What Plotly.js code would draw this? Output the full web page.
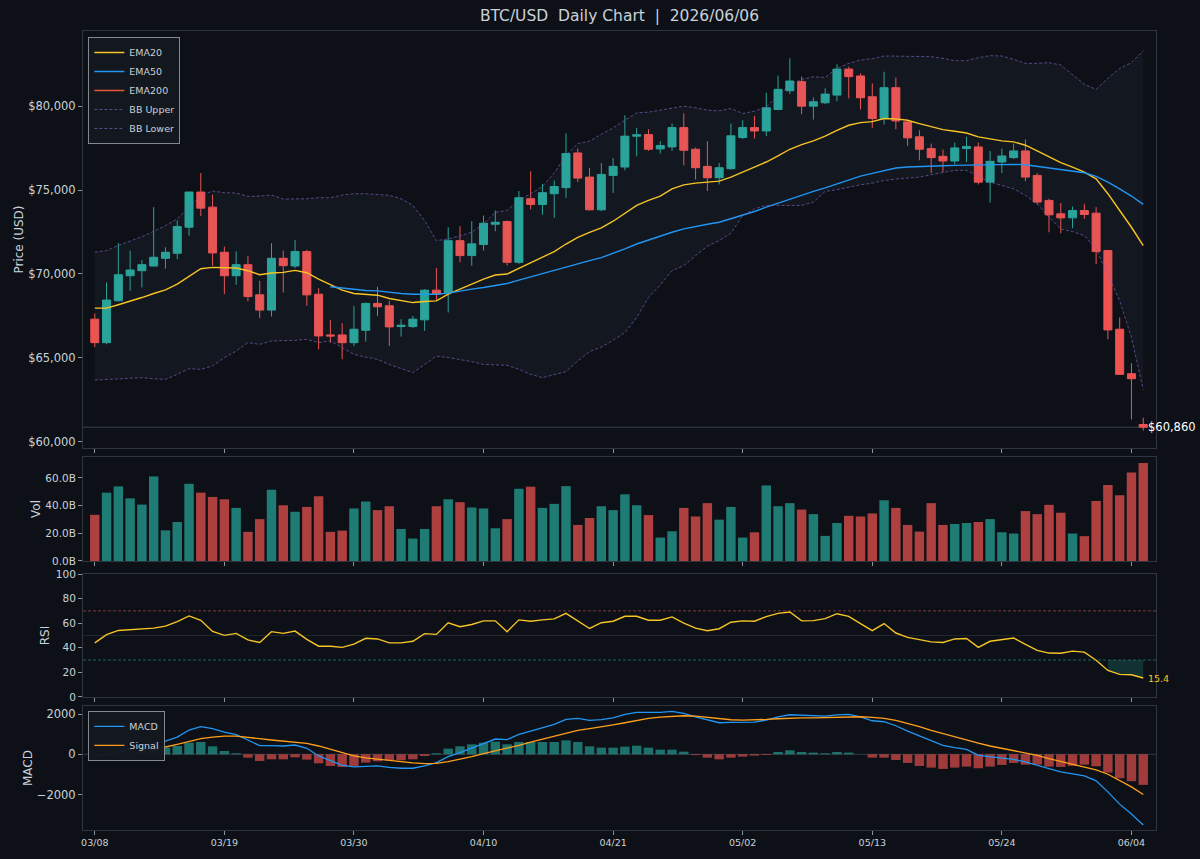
<!DOCTYPE html>
<html>
<head>
<meta charset="utf-8">
<script src="https://cdn.plot.ly/plotly-3.0.1.min.js"></script>
<style>html,body{margin:0;padding:0;background:#0d1117;}#chart{width:1200px;height:859px;}</style>
</head>
<body>
<div id="chart"></div>
<script>
const dates = [
'2026-03-08','2026-03-09','2026-03-10','2026-03-11','2026-03-12','2026-03-13','2026-03-14','2026-03-15','2026-03-16','2026-03-17',
'2026-03-18','2026-03-19','2026-03-20','2026-03-21','2026-03-22','2026-03-23','2026-03-24','2026-03-25','2026-03-26','2026-03-27',
'2026-03-28','2026-03-29','2026-03-30','2026-03-31','2026-04-01','2026-04-02','2026-04-03','2026-04-04','2026-04-05','2026-04-06',
'2026-04-07','2026-04-08','2026-04-09','2026-04-10','2026-04-11','2026-04-12','2026-04-13','2026-04-14','2026-04-15','2026-04-16',
'2026-04-17','2026-04-18','2026-04-19','2026-04-20','2026-04-21','2026-04-22','2026-04-23','2026-04-24','2026-04-25','2026-04-26',
'2026-04-27','2026-04-28','2026-04-29','2026-04-30','2026-05-01','2026-05-02','2026-05-03','2026-05-04','2026-05-05','2026-05-06',
'2026-05-07','2026-05-08','2026-05-09','2026-05-10','2026-05-11','2026-05-12','2026-05-13','2026-05-14','2026-05-15','2026-05-16',
'2026-05-17','2026-05-18','2026-05-19','2026-05-20','2026-05-21','2026-05-22','2026-05-23','2026-05-24','2026-05-25','2026-05-26',
'2026-05-27','2026-05-28','2026-05-29','2026-05-30','2026-05-31','2026-06-01','2026-06-02','2026-06-03','2026-06-04','2026-06-05'];

const tickDates = ['2026-03-08','2026-03-19','2026-03-30','2026-04-10','2026-04-21','2026-05-02','2026-05-13','2026-05-24','2026-06-04'];
const tickLabels = ['03/08','03/19','03/30','04/10','04/21','05/02','05/13','05/24','06/04'];
const priceTicks = [60000,65000,70000,75000,80000];
const priceTickLabels = ['$60,000','$65,000','$70,000','$75,000','$80,000'];
const volTicks = [0,20,40,60];
const volTickLabels = ['0.0B','20.0B','40.0B','60.0B'];
const rsiTicks = [0,20,40,60,80,100];
const macdTicks = [-2000,0,2000];

const open = [67300,65900,68400,69890,70190,70470,70930,71230,72780,74880,
73980,71290,69890,70550,68750,67840,70930,70470,71330,68790,
66360,66360,65900,66640,68240,68100,66860,66860,67260,69030,
68890,71980,71090,71750,72960,73120,70690,74480,74140,74780,
75140,77210,75770,73820,75870,76370,78210,78310,77450,77570,
78720,77430,76410,75730,76270,78130,78720,78520,79800,80920,
81460,80000,80200,80660,82210,81800,80560,79260,81100,79060,
78170,77470,77010,76730,77470,77570,75470,76670,76930,77330,
75870,74380,73580,73340,73780,73620,71390,66700,64050,61020];
const high = [67640,69490,71830,71390,70830,73980,71590,73180,74900,76010,
74720,71630,71350,71070,69590,71830,71390,72020,71430,69150,
67260,67060,68100,68300,69230,68400,67300,67500,69090,70350,
72780,72840,73140,73480,73780,73180,74940,76110,75370,75570,
78370,77470,76310,76610,76910,79460,78700,78620,77910,78960,
79560,77530,77910,76610,78960,79160,79420,80800,81820,82850,
81760,80520,81060,82490,82350,81950,81360,82050,81700,79120,
78560,77770,77410,77830,78170,77830,77330,77470,77770,78010,
76010,74480,74220,74020,74180,73980,71430,67400,64670,61420];
const low = [65640,65800,68360,68990,69190,70430,70310,70870,72280,73440,
70490,68790,69350,68360,67360,67460,68890,70350,68100,65500,
65900,64910,65700,65960,67500,65700,66260,66760,66600,68400,
67700,70690,70490,71390,72540,70490,70590,73840,73520,73340,
74540,75470,73780,73740,74820,76170,77010,77330,77170,77330,
76470,75630,74940,75330,76210,78030,78070,78210,79760,80720,
79520,79200,80120,80300,80460,79800,78700,78900,78620,77630,
76770,76010,76070,76530,76670,75330,74240,76010,76850,75530,
74140,72480,72420,72720,73280,70590,66100,63970,61320,60660];
const close = [65900,68440,69950,70230,70550,70990,71290,72820,74880,73920,
71250,69890,70550,68650,67840,70930,70490,71330,68750,66300,
66300,65900,66700,68240,68040,66840,66940,67300,69030,68790,
71980,71090,71790,73020,73080,70690,74540,74140,74840,75210,
77170,75710,73820,75930,76410,78210,78290,77430,77650,78720,
77370,76330,75730,76330,78230,78720,78520,79900,81000,81500,
80000,80260,80720,82210,81760,80500,79260,81100,79120,78110,
77430,76930,76730,77510,77590,75470,76710,77030,77330,75770,
74280,73520,73340,73780,73540,71330,66660,64010,63750,60860];

const ema20 = [67960,67960,68160,68360,68590,68830,69050,69390,69830,70310,
70390,70370,70350,70190,69950,70050,70090,70210,70070,69690,
69350,69030,68830,68790,68730,68530,68390,68290,68350,68390,
68790,69090,69390,69690,69930,69990,70330,70650,70990,71330,
71780,72180,72480,72740,73140,73620,74080,74380,74640,75070,
75310,75410,75470,75530,75770,76070,76330,76670,77030,77430,
77710,77930,78210,78560,78860,79020,79080,79260,79240,79160,
78960,78760,78600,78500,78400,78170,78030,77930,77870,77670,
77330,76970,76630,76370,76070,75670,74780,73780,72780,71690];
const ema50 = [null,null,null,null,null,null,null,null,null,null,
null,null,null,null,null,null,null,null,null,null,
69230,69150,69070,69010,68990,68890,68830,68790,68790,68790,
68850,68990,69090,69190,69330,69430,69630,69830,70030,70190,
70430,70630,70790,70970,71210,71490,71780,72020,72240,72480,
72680,72840,72960,73080,73280,73520,73720,73980,74220,74480,
74680,74920,75130,75370,75630,75830,75990,76170,76310,76370,
76410,76430,76450,76470,76490,76510,76510,76530,76530,76510,
76410,76290,76210,76130,76030,75810,75470,75070,74640,74140];
// EMA200 has no values inside the shown window (not drawn in the reference)
const ema200 = [null,null,null,null,null,null,null,null,null,null,
null,null,null,null,null,null,null,null,null,null,
null,null,null,null,null,null,null,null,null,null,
null,null,null,null,null,null,null,null,null,null,
null,null,null,null,null,null,null,null,null,null,
null,null,null,null,null,null,null,null,null,null,
null,null,null,null,null,null,null,null,null,null,
null,null,null,null,null,null,null,null,null,null,
null,null,null,null,null,null,null,null,null,null];
const bbUpper = [71290,71390,71690,71940,72220,72540,72880,73280,73980,74680,
74940,74840,74820,74620,74640,74700,74460,74460,74480,74540,
74540,74700,74780,74780,74740,74680,74480,74080,73180,71980,
72080,72280,72480,72980,73680,73780,74380,74780,75210,76010,
77070,77770,77910,78330,78700,79160,79600,79640,79760,79860,
80000,79900,79760,79720,79860,79560,79700,79960,80660,81260,
81600,81750,81710,82250,82550,82750,82830,82990,82990,82990,
82950,82950,82850,82710,82710,82890,83010,82990,82790,82550,
82550,82590,82450,81850,81300,81000,81660,82250,82590,83310];
const bbLower = [63670,63710,63750,63810,63810,63750,63710,64010,64350,64310,
64510,65010,65400,65900,65800,66000,66000,66040,66100,65900,
66000,65600,65200,65040,64900,64600,64350,64110,64600,65100,
65010,64900,64770,64600,64570,64550,64310,64010,63810,64010,
64170,64810,65360,65640,66040,66500,67400,68600,69330,70190,
70490,71090,71650,71980,72420,73480,73880,74080,74080,74080,
74080,74280,74920,75020,75170,75310,75410,75570,75650,75710,
75770,75910,76030,76170,76170,75830,75470,75270,75070,74680,
74180,73380,72680,72520,72280,71490,69890,68400,66200,63110];

const volumeB = [33.3,49.3,53.8,45.2,40.7,61.0,22.1,28.1,55.7,49.3,
46.2,44.5,38.3,21.0,30.2,51.4,40.2,35.5,39.0,46.7,
21.0,21.9,37.9,42.9,36.7,39.5,23.1,16.2,23.1,39.5,
44.5,42.4,38.6,37.9,23.6,30.2,52.1,53.6,38.3,41.2,
54.0,26.0,31.0,39.5,36.7,48.1,40.2,33.1,16.9,21.4,
38.3,32.1,41.7,29.8,39.0,16.9,20.7,54.5,39.5,41.7,
37.1,33.8,18.1,27.4,32.6,32.1,34.3,43.8,38.3,26.0,
21.2,41.7,26.0,26.7,27.4,28.1,30.2,20.7,19.8,36.0,
33.8,40.5,34.8,19.8,17.9,43.3,54.8,47.4,63.8,70.7];

const rsi = [44.0,50.7,54.1,54.7,55.2,56.0,57.6,61.3,65.9,62.4,
53.3,50.1,51.7,46.4,44.3,53.1,51.7,53.6,46.9,41.3,
41.3,40.3,42.9,47.7,47.2,44.0,44.0,45.3,51.5,50.9,
60.3,57.1,58.9,61.9,61.9,53.1,62.7,61.6,62.7,63.5,
68.0,61.9,55.7,60.4,61.6,65.6,65.6,62.4,62.4,65.1,
60.0,56.0,53.9,55.5,60.8,61.9,61.6,65.3,68.0,69.1,
61.9,62.1,63.7,67.7,65.6,59.7,53.9,59.7,52.0,48.5,
46.4,44.8,44.3,47.2,47.5,40.3,45.3,46.7,48.0,42.7,
37.9,35.7,35.5,37.3,36.5,29.9,21.6,18.4,18.1,15.4];

const macd = [-66,-33,116,248,380,545,660,858,1205,1370,
1271,1106,974,710,429,429,413,462,297,-83,
-330,-545,-627,-594,-578,-644,-693,-693,-578,-413,
-116,83,297,528,759,726,990,1155,1337,1485,
1733,1782,1683,1725,1805,1980,2079,2079,2079,2129,
2030,1865,1700,1568,1584,1601,1601,1700,1865,1964,
1931,1898,1898,1964,1980,1865,1667,1617,1419,1155,
908,660,446,330,248,-50,-116,-149,-248,-380,
-528,-710,-875,-990,-1073,-1320,-1865,-2475,-2970,-3515];
const signal = [null,null,null,null,182,264,363,495,644,776,
858,908,908,858,776,710,660,627,545,413,
248,83,-83,-182,-248,-314,-380,-429,-462,-446,
-363,-248,-116,33,165,297,446,611,759,908,
1056,1188,1271,1353,1460,1568,1683,1782,1848,1898,
1914,1898,1832,1749,1716,1700,1700,1733,1766,1799,
1815,1815,1832,1848,1865,1865,1832,1782,1683,1535,
1370,1188,1023,875,726,561,413,297,198,83,
-50,-215,-363,-495,-627,-776,-990,-1287,-1617,-1997];
const hist = [null,null,null,null,215,248,330,413,578,611,
396,165,50,-165,-330,-248,-248,-149,-264,-446,
-578,-627,-578,-413,-347,-297,-297,-248,-83,50,
281,396,495,578,627,495,611,611,611,611,
693,611,396,330,330,380,429,330,231,231,
132,-40,-165,-248,-165,-116,-66,-33,116,198,
116,83,50,116,83,0,-165,-165,-281,-429,
-578,-660,-726,-660,-611,-693,-611,-528,-429,-512,
-512,-611,-627,-578,-512,-594,-908,-1188,-1337,-1518];

const UP = '#26a69a', DOWN = '#ef5350';
const volColors = close.map((c, i) => c >= open[i] ? 'rgba(38,166,154,0.72)' : 'rgba(239,83,80,0.72)');
const histColors = hist.map(v => (v !== null && v >= 0) ? 'rgba(38,166,154,0.65)' : 'rgba(239,83,80,0.65)');

const n = dates.length;
const lastDate = dates[n - 1];
const lastClose = close[n - 1];
const lastRsi = rsi[n - 1];
let osStart = n - 1;
while (osStart > 0 && rsi[osStart - 1] < 29.5) osStart--;
const osDates = dates.slice(osStart);
const osRsi = rsi.slice(osStart);
const os30 = osDates.map(() => 30);

const traces = [
  {type:'scatter', x:dates, y:bbUpper, xaxis:'x', yaxis:'y', mode:'lines', line:{width:0, color:'rgba(0,0,0,0)'}, showlegend:false, hoverinfo:'skip'},
  {type:'scatter', x:dates, y:bbLower, xaxis:'x', yaxis:'y', mode:'lines', line:{width:0, color:'rgba(0,0,0,0)'}, fill:'tonexty', fillcolor:'rgba(120,120,190,0.055)', showlegend:false, hoverinfo:'skip'},
  {type:'candlestick', x:dates, open:open, high:high, low:low, close:close, xaxis:'x', yaxis:'y', showlegend:false,
   increasing:{line:{color:UP, width:1}, fillcolor:UP}, decreasing:{line:{color:DOWN, width:1}, fillcolor:DOWN}, whiskerwidth:0},
  {type:'scatter', x:dates, y:ema20, name:'EMA20', xaxis:'x', yaxis:'y', mode:'lines', line:{color:'#f7c325', width:1.4}},
  {type:'scatter', x:dates, y:ema50, name:'EMA50', xaxis:'x', yaxis:'y', mode:'lines', line:{color:'#2196f3', width:1.4}},
  {type:'scatter', x:dates, y:ema200, name:'EMA200', xaxis:'x', yaxis:'y', mode:'lines', line:{color:'#e4573a', width:1.4}},
  {type:'scatter', x:dates, y:bbUpper, name:'BB Upper', xaxis:'x', yaxis:'y', mode:'lines', line:{color:'rgba(126,97,190,0.75)', width:0.9, dash:'3px,2px'}},
  {type:'scatter', x:dates, y:bbLower, name:'BB Lower', xaxis:'x', yaxis:'y', mode:'lines', line:{color:'rgba(126,97,190,0.75)', width:0.9, dash:'3px,2px'}},
  {type:'bar', x:dates, y:volumeB, xaxis:'x2', yaxis:'y2', marker:{color:volColors, line:{width:0}}, showlegend:false},
  {type:'scatter', x:osDates, y:os30, xaxis:'x3', yaxis:'y3', mode:'lines', line:{width:0, color:'rgba(0,0,0,0)'}, showlegend:false, hoverinfo:'skip'},
  {type:'scatter', x:osDates, y:osRsi, xaxis:'x3', yaxis:'y3', mode:'lines', line:{width:0, color:'rgba(0,0,0,0)'}, fill:'tonexty', fillcolor:'rgba(38,166,154,0.22)', showlegend:false, hoverinfo:'skip'},
  {type:'scatter', x:dates, y:rsi, xaxis:'x3', yaxis:'y3', mode:'lines', line:{color:'#f7c325', width:1.4}, showlegend:false},
  {type:'bar', x:dates, y:hist, xaxis:'x4', yaxis:'y4', marker:{color:histColors, line:{width:0}}, showlegend:false},
  {type:'scatter', x:dates, y:macd, name:'MACD', xaxis:'x4', yaxis:'y4', mode:'lines', line:{color:'#2196f3', width:1.3}, legend:'legend2'},
  {type:'scatter', x:dates, y:signal, name:'Signal', xaxis:'x4', yaxis:'y4', mode:'lines', line:{color:'#ff9f1c', width:1.3}, legend:'legend2'}
];

const AX = '#30363d', TK = '#8b949e', TXT = '#c9d1d9';
const xBase = {type:'date', range:['2026-03-07 00:00','2026-06-06 02:00'], tickmode:'array', tickvals:tickDates, ticktext:tickLabels,
  ticks:'outside', ticklen:4, tickcolor:TK, showline:true, mirror:true, linecolor:AX, linewidth:1,
  showgrid:false, zeroline:false, showticklabels:false, tickfont:{size:9.5, color:TXT}};
const yBase = {ticks:'outside', ticklen:4, tickcolor:TK, showline:true, mirror:true, linecolor:AX, linewidth:1,
  showgrid:false, zeroline:false, tickmode:'array', tickfont:{size:11.5, color:TXT}};

const legendStyle = {xanchor:'left', yanchor:'top', bgcolor:'rgba(20,24,31,0.95)', bordercolor:'rgba(180,186,194,0.7)', borderwidth:1,
  font:{size:9.5, color:TXT}, traceorder:'normal'};

const layout = {
  width:1200, height:859,
  paper_bgcolor:'#0d1117', plot_bgcolor:'#0d1117',
  margin:{l:83, r:44, t:31, b:29},
  font:{family:'DejaVu Sans, sans-serif', color:TXT, size:11.5},
  title:{text:'BTC/USD\u00a0\u00a0Daily Chart\u00a0\u00a0|\u00a0\u00a02026/06/06', x:0.5, xref:'paper', xanchor:'center',
         y:0.982, yref:'container', yanchor:'middle', font:{size:15.5, color:TXT}},
  bargap:0.2,
  boxgap:0.15,
  boxgroupgap:0.2,
  showlegend:true,
  legend:Object.assign({x:0.005, y:0.9925}, legendStyle),
  legend2:Object.assign({x:0.005, y:0.149}, legendStyle),
  xaxis:Object.assign({}, xBase, {anchor:'y', rangeslider:{visible:false}}),
  xaxis2:Object.assign({}, xBase, {anchor:'y2', matches:'x'}),
  xaxis3:Object.assign({}, xBase, {anchor:'y3', matches:'x'}),
  xaxis4:Object.assign({}, xBase, {anchor:'y4', matches:'x', showticklabels:true}),
  yaxis:Object.assign({}, yBase, {domain:[0.4781,1], range:[59620,84480], tickvals:priceTicks, ticktext:priceTickLabels,
          title:{text:'Price (USD)', font:{size:12, color:TXT}}}),
  yaxis2:Object.assign({}, yBase, {domain:[0.3367,0.4668], range:[0,75], tickvals:volTicks, ticktext:volTickLabels,
          tickfont:{size:10.5, color:TXT}, title:{text:'Vol', font:{size:12, color:TXT}}}),
  yaxis3:Object.assign({}, yBase, {domain:[0.1665,0.3204], range:[0,100], tickvals:rsiTicks, ticktext:rsiTicks.map(String),
          tickfont:{size:10.5, color:TXT}, title:{text:'RSI', font:{size:12, color:TXT}}}),
  yaxis4:Object.assign({}, yBase, {domain:[0,0.1552], range:[-3760,2400], tickvals:macdTicks, ticktext:macdTicks.map(v => v < 0 ? '\u2212' + Math.abs(v) : String(v)),
          title:{text:'MACD', font:{size:12, color:TXT}}}),
  shapes:[
    {type:'line', xref:'paper', x0:0, x1:1, yref:'y', y0:lastClose, y1:lastClose, line:{color:'rgba(139,148,158,0.45)', width:0.8}, layer:'below'},
    {type:'line', xref:'paper', x0:0, x1:1, yref:'y3', y0:70, y1:70, line:{color:'rgba(239,83,80,0.6)', width:0.9, dash:'3px,2px'}},
    {type:'line', xref:'paper', x0:0, x1:1, yref:'y3', y0:30, y1:30, line:{color:'rgba(38,166,154,0.6)', width:0.9, dash:'3px,2px'}},
    {type:'line', xref:'paper', x0:0, x1:1, yref:'y3', y0:50, y1:50, line:{color:'rgba(139,148,158,0.22)', width:0.8}},
    {type:'line', xref:'paper', x0:0, x1:1, yref:'y4', y0:0, y1:0, line:{color:'rgba(139,148,158,0.4)', width:0.8}, layer:'below'}
  ],
  annotations:[
    {xref:'x', yref:'y', x:lastDate, y:lastClose, text:'$' + lastClose.toLocaleString('en-US'), showarrow:false,
     xanchor:'left', yanchor:'middle', xshift:3, font:{size:11.5, color:'#ffffff'}},
    {xref:'x3', yref:'y3', x:lastDate, y:lastRsi, text:lastRsi.toFixed(1), showarrow:false,
     xanchor:'left', yanchor:'middle', xshift:3, font:{size:9.5, color:'#f7c325'}}
  ]
};

Plotly.newPlot('chart', traces, layout, {displayModeBar:false, staticPlot:true});
</script>
</body>
</html>
